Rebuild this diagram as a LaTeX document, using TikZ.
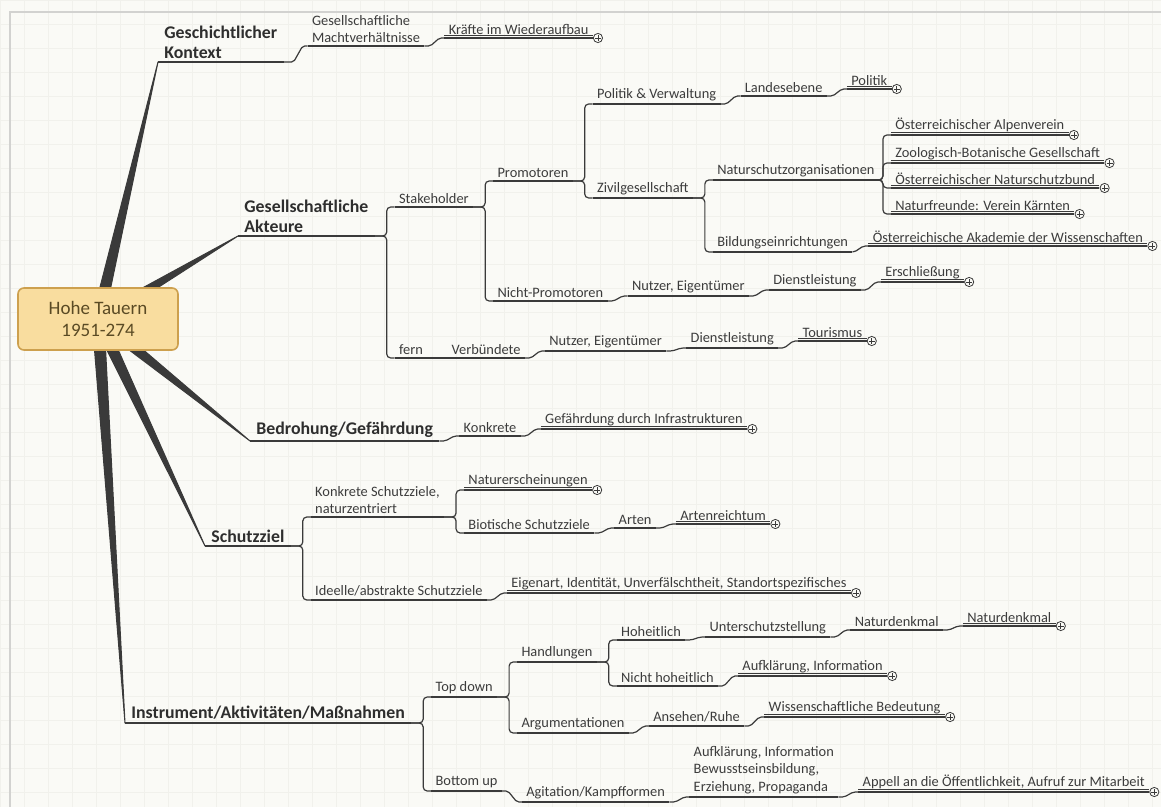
\documentclass[tikz,border=0pt]{standalone}
\usepackage{fontspec}
\setmainfont{Carlito}
\usepackage{tikz}
\usetikzlibrary{positioning, calc}
\definecolor{paper}{HTML}{FAFAF6}
\definecolor{raster}{HTML}{F1F1EC}
\definecolor{framec}{HTML}{D2D2D0}
\definecolor{linec}{HTML}{3A3A3A}
\definecolor{maintext}{HTML}{2E2E2E}
\definecolor{subtext}{HTML}{3C3C3C}
\definecolor{rootfill}{HTML}{F9DD9F}
\definecolor{rootline}{HTML}{CDA04E}
\definecolor{roottext}{HTML}{5A4A24}
\tikzstyle{root} = [rectangle, rounded corners=3pt, minimum width=80pt, minimum height=31pt, align=center, draw=rootline, line width=0.8pt, fill=rootfill, text=roottext, font=\fontsize{9.5}{11}\selectfont]
\tikzstyle{mainline} = [draw=linec, line width=0.9pt]
\tikzstyle{subline} = [draw=linec, line width=0.6pt]
\tikzstyle{main} = [anchor=south west, inner xsep=3pt, inner ysep=1.5pt, align=left, text=maintext, font=\bfseries\fontsize{8.9}{9.8}\selectfont, append after command={(\tikzlastnode.south west) edge[mainline] (\tikzlastnode.south east)}]
\tikzstyle{topic} = [anchor=south west, inner xsep=2pt, inner ysep=1.5pt, align=left, text=subtext, font=\fontsize{7.2}{8.6}\selectfont, append after command={(\tikzlastnode.south west) edge[subline] (\tikzlastnode.south east)}]
\tikzstyle{leaf} = [topic, append after command={([yshift=1.3pt]\tikzlastnode.south west) edge[draw=linec, line width=0.35pt] ([yshift=1.3pt]\tikzlastnode.south east)}]
\tikzstyle{fold} = [circle, draw=linec, fill=paper, line width=0.4pt, minimum size=4.6pt, inner sep=0pt, path picture={\draw[line width=0.35pt] ([xshift=-1.5pt]path picture bounding box.center) -- ([xshift=1.5pt]path picture bounding box.center) ([yshift=-1.5pt]path picture bounding box.center) -- ([yshift=1.5pt]path picture bounding box.center);}]
\tikzstyle{link} = [draw=linec, line width=0.6pt, rounded corners=2pt, to path={-| ([xshift=-4pt]\tikztotarget) -- (\tikztotarget)}]
\tikzstyle{hop} = [draw=linec, line width=0.6pt, rounded corners=1pt, to path={-- ($(\tikztostart -| \tikztotarget)+(-14,0)$) -- ($(\tikztotarget)+(-5,0)$) -- (\tikztotarget)}]
\tikzstyle{wedge} = [fill=linec, draw=linec, line width=0.5pt, line join=round]

\begin{document}
\begin{tikzpicture}[x=0.5pt, y=-0.5pt]
  \useasboundingbox (0,0) rectangle (1161,807);
  \fill[paper] (0,0) rectangle (1161,807);
  \draw[raster, step=12pt] (0,0) grid (1161,807);
  \draw[framec, line width=1pt] (10,807) -- (10,12) -- (1161,12);

  % main topics
  \coordinate (hub) at (98,319);
  \node[main] (gk) at (158,62) {Geschichtlicher\\Kontext};
  \node[main] (ga) at (238,236) {Gesellschaftliche\\Akteure};
  \node[main] (bg) at (250,441) {Bedrohung/Gefährdung};
  \node[main] (sz) at (205,546) {Schutzziel};
  \node[main] (ins) at (125,723) {Instrument/Aktivitäten/Maßnahmen};

  \foreach \t in {gk, ga, bg, sz, ins}
    \filldraw[wedge] ($(hub)!3pt!90:(\t.south west)$) -- (\t.south west) -- ($(hub)!3pt!-90:(\t.south west)$) -- cycle;

  \node[root] (root) at (hub) {Hohe Tauern\\1951-274};

  % Geschichtlicher Kontext
  \node[topic, above right=8pt and 12pt of gk.south east] (gkm) {Gesellschaftliche\\Machtverhältnisse};
  \node[leaf, above right=4pt and 10pt of gkm.south east] (gkk) {Kräfte im Wiederaufbau};

  % Gesellschaftliche Akteure
  \node[topic, above right=14.5pt and 10pt of ga.south east] (gas) {Stakeholder};
  \node[topic, above right=-61pt and 10pt of ga.south east] (gaf) {fern};
  \node[topic, above right=13pt and 10pt of gas.south east] (gap) {Promotoren};
  \node[topic, above right=-47pt and 10pt of gas.south east] (gan) {Nicht-Promotoren};
  \node[topic, above right=38.5pt and 10pt of gap.south east] (gapv) {Politik \& Verwaltung};
  \node[topic, above right=-8.5pt and 10pt of gap.south east] (gazg) {Zivilgesellschaft};
  \node[topic, above right=4pt and 10pt of gapv.south east] (gale) {Landesebene};
  \node[leaf, above right=3.5pt and 10pt of gale.south east] (gapo) {Politik};
  \node[topic, above right=9pt and 10pt of gazg.south east] (gano) {Naturschutzorganisationen};
  \node[topic, above right=-27pt and 10pt of gazg.south east] (gabe) {Bildungseinrichtungen};
  \node[leaf, above right=22.5pt and 6pt of gano.south east] (gaav) {Österreichischer Alpenverein};
  \node[leaf, above right=8.5pt and 6pt of gano.south east] (gazb) {Zoologisch-Botanische Gesellschaft};
  \node[leaf, above right=-4pt and 6pt of gano.south east] (ganb) {Österreichischer Naturschutzbund};
  \node[leaf, above right=-17pt and 6pt of gano.south east] (ganf) {Naturfreunde: Verein Kärnten};
  \node[leaf, above right=3pt and 8pt of gabe.south east] (gaoa) {Österreichische Akademie der Wissenschaften};
  \node[topic, above right=2.5pt and 10pt of gan.south east] (gane) {Nutzer, Eigentümer};
  \node[topic, above right=3pt and 10pt of gane.south east] (gadl) {Dienstleistung};
  \node[leaf, above right=4pt and 10pt of gadl.south east] (gaer) {Erschließung};
  \node[topic, above right=0pt and 10pt of gaf.south east] (gavb) {Verbündete};
  \node[topic, above right=3.5pt and 10pt of gavb.south east] (gavn) {Nutzer, Eigentümer};
  \node[topic, above right=1.5pt and 10pt of gavn.south east] (gavd) {Dienstleistung};
  \node[leaf, above right=3.5pt and 10pt of gavd.south east] (gato) {Tourismus};

  % Bedrohung/Gefaehrdung
  \node[topic, above right=2.5pt and 10pt of bg.south east] (bgk) {Konkrete};
  \node[leaf, above right=3.5pt and 10pt of bgk.south east] (bgi) {Gefährdung durch Infrastrukturen};

  % Schutzziel
  \node[topic, above right=14.5pt and 10pt of sz.south east] (szk) {Konkrete Schutzziele,\\naturzentriert};
  \node[topic, above right=-27pt and 10pt of sz.south east] (szi) {Ideelle/abstrakte Schutzziele};
  \node[leaf, above right=13.5pt and 10pt of szk.south east] (szne) {Naturerscheinungen};
  \node[topic, above right=-8pt and 10pt of szk.south east] (szbs) {Biotische Schutzziele};
  \node[topic, above right=2.5pt and 10pt of szbs.south east] (szar) {Arten};
  \node[leaf, above right=2pt and 10pt of szar.south east] (szav) {Artenreichtum};
  \node[leaf, above right=3.5pt and 10pt of szi.south east] (szei) {Eigenart, Identität, Unverfälschtheit, Standortspezifisches};

  % Instrument/Aktivitaeten/Massnahmen
  \node[topic, above right=13pt and 10pt of ins.south east] (inst) {Top down};
  \node[topic, above right=-34pt and 10pt of ins.south east] (insb) {Bottom up};
  \node[topic, above right=17.5pt and 10pt of inst.south east] (insh) {Handlungen};
  \node[topic, above right=-18pt and 10pt of inst.south east] (insa) {Argumentationen};
  \node[topic, above right=11pt and 10pt of insh.south east] (insho) {Hoheitlich};
  \node[topic, above right=-12pt and 10pt of insh.south east] (insnh) {Nicht hoheitlich};
  \node[topic, above right=1.5pt and 10pt of insho.south east] (insus) {Unterschutzstellung};
  \node[topic, above right=3.5pt and 10pt of insus.south east] (insnd) {Naturdenkmal};
  \node[leaf, above right=2pt and 10pt of insnd.south east] (insnm) {Naturdenkmal};
  \node[leaf, above right=5pt and 10pt of insnh.south east] (insai) {Aufklärung, Information};
  \node[topic, above right=3.5pt and 10pt of insa.south east] (insar) {Ansehen/Ruhe};
  \node[leaf, above right=4.5pt and 10pt of insar.south east] (inswb) {Wissenschaftliche Bedeutung};
  \node[topic, above right=-5.5pt and 10pt of insb.south east] (insag) {Agitation/Kampfformen};
  \node[topic, above right=2.5pt and 10pt of insag.south east] (insae) {Aufklärung, Information\\Bewusstseinsbildung,\\Erziehung, Propaganda};
  \node[leaf, above right=2.5pt and 10pt of insae.south east] (insap) {Appell an die Öffentlichkeit, Aufruf zur Mitarbeit};

  % forks
  \draw[link] (ga.south east) to (gas.south west);
  \draw[link] (ga.south east) to (gaf.south west);
  \draw[link] (gas.south east) to (gap.south west);
  \draw[link] (gas.south east) to (gan.south west);
  \draw[link] (gap.south east) to (gapv.south west);
  \draw[link] (gap.south east) to (gazg.south west);
  \draw[link] (gazg.south east) to (gano.south west);
  \draw[link] (gazg.south east) to (gabe.south west);
  \draw[link] (gano.south east) to (gaav.south west);
  \draw[link] (gano.south east) to (gazb.south west);
  \draw[link] (gano.south east) to (ganb.south west);
  \draw[link] (gano.south east) to (ganf.south west);
  \draw[link] (sz.south east) to (szk.south west);
  \draw[link] (sz.south east) to (szi.south west);
  \draw[link] (szk.south east) to (szne.south west);
  \draw[link] (szk.south east) to (szbs.south west);
  \draw[link] (ins.south east) to (inst.south west);
  \draw[link] (ins.south east) to (insb.south west);
  \draw[link] (inst.south east) to (insh.south west);
  \draw[link] (inst.south east) to (insa.south west);
  \draw[link] (insh.south east) to (insho.south west);
  \draw[link] (insh.south east) to (insnh.south west);

  % single steps
  \draw[hop] (gk.south east) to (gkm.south west);
  \draw[hop] (gkm.south east) to (gkk.south west);
  \draw[hop] (gapv.south east) to (gale.south west);
  \draw[hop] (gale.south east) to (gapo.south west);
  \draw[hop] (gabe.south east) to (gaoa.south west);
  \draw[hop] (gan.south east) to (gane.south west);
  \draw[hop] (gane.south east) to (gadl.south west);
  \draw[hop] (gadl.south east) to (gaer.south west);
  \draw[hop] (gaf.south east) to (gavb.south west);
  \draw[hop] (gavb.south east) to (gavn.south west);
  \draw[hop] (gavn.south east) to (gavd.south west);
  \draw[hop] (gavd.south east) to (gato.south west);
  \draw[hop] (bg.south east) to (bgk.south west);
  \draw[hop] (bgk.south east) to (bgi.south west);
  \draw[hop] (szbs.south east) to (szar.south west);
  \draw[hop] (szar.south east) to (szav.south west);
  \draw[hop] (szi.south east) to (szei.south west);
  \draw[hop] (insho.south east) to (insus.south west);
  \draw[hop] (insus.south east) to (insnd.south west);
  \draw[hop] (insnd.south east) to (insnm.south west);
  \draw[hop] (insnh.south east) to (insai.south west);
  \draw[hop] (insa.south east) to (insar.south west);
  \draw[hop] (insar.south east) to (inswb.south west);
  \draw[hop] (insb.south east) to (insag.south west);
  \draw[hop] (insag.south east) to (insae.south west);
  \draw[hop] (insae.south east) to (insap.south west);

  % collapsed markers
  \foreach \n in {gkk, gapo, gaav, gazb, ganb, ganf, gaoa, gaer, gato, bgi, szne, szav, szei, insnm, insai, inswb, insap}
    \node[fold] at ([xshift=2.6pt]\n.south east) {};
\end{tikzpicture}
\end{document}
